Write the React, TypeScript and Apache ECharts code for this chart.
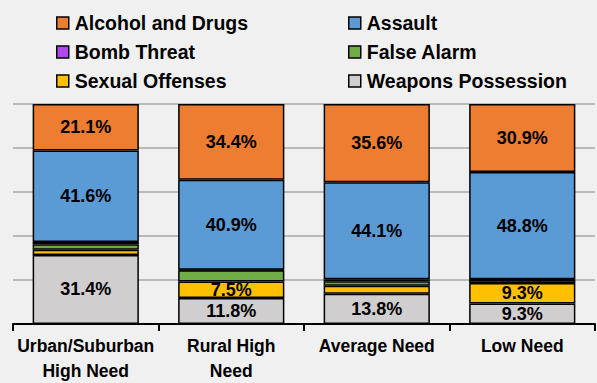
import React, { useEffect, useRef } from "react";
import * as echarts from "echarts";

// Share of incidents by school need category (percent of each column)
const categories = ["Urban/Suburban\nHigh Need", "Rural High\nNeed", "Average Need", "Low Need"];
const alcoholAndDrugs = [21.1, 34.4, 35.6, 30.9];
const assault = [41.6, 40.9, 44.1, 48.8];
const bombThreat = [1.0, 0.3, 0.9, 0.2];
const falseAlarm = [2.5, 5.1, 2.0, 1.5];
const sexualOffenses = [2.4, 7.5, 3.6, 9.3];
const weaponsPossession = [31.4, 11.8, 13.8, 9.3];
const yTicks = [0, 20, 40, 60, 80, 100];

const FONT = "'Liberation Sans', Arial, sans-serif";

export default function App() {
  const ref = useRef<HTMLDivElement>(null);

  useEffect(() => {
    if (!ref.current) return;
    const chart = echarts.init(ref.current, null, { renderer: "svg" });

    // stacked from the bottom of each column upwards
    const layers = [
      { name: "Weapons Possession", data: weaponsPossession, color: "#D0CECE" },
      { name: "Sexual Offenses", data: sexualOffenses, color: "#FFC000" },
      { name: "False Alarm", data: falseAlarm, color: "#70AD47" },
      { name: "Bomb Threat", data: bombThreat, color: "#B347EE" },
      { name: "Assault", data: assault, color: "#5B9BD5" },
      { name: "Alcohol and Drugs", data: alcoholAndDrugs, color: "#ED7D31" },
    ];

    const legendCommon = {
      orient: "vertical" as const,
      top: 8,
      itemWidth: 12,
      itemHeight: 12,
      itemGap: 9,
      icon: "rect",
      itemStyle: { borderColor: "#000", borderWidth: 1.5 },
      textStyle: {
        fontFamily: FONT,
        fontWeight: "bold" as const,
        fontSize: 19.5,
        color: "#000",
        lineHeight: 20,
        padding: [0, 0, 0, 1],
      },
      selectedMode: false,
    };

    chart.setOption({
      animation: false,
      backgroundColor: "#F0F0F0",
      legend: [
        { ...legendCommon, left: 51, data: ["Alcohol and Drugs", "Bomb Threat", "Sexual Offenses"] },
        { ...legendCommon, left: 343, data: ["Assault", "False Alarm", "Weapons Possession"] },
      ],
      grid: { left: 13, right: 2, top: 104, height: 224, containLabel: false },
      xAxis: {
        type: "category",
        data: categories,
        axisLine: { lineStyle: { color: "#000", width: 2 } },
        axisTick: { show: true, length: 7, lineStyle: { color: "#000", width: 2 } },
        axisLabel: {
          fontFamily: FONT,
          fontWeight: "bold",
          fontSize: 17.5,
          color: "#000",
          lineHeight: 25,
          margin: 9,
          interval: 0,
        },
      },
      yAxis: {
        type: "value",
        min: yTicks[0],
        max: yTicks[yTicks.length - 1],
        interval: yTicks[1] - yTicks[0],
        axisLabel: { show: false },
        axisLine: { show: false },
        axisTick: { show: false },
        splitLine: { lineStyle: { color: "#A6A6A6", width: 1.5 } },
      },
      series: layers.map((l) => ({
        name: l.name,
        type: "bar",
        stack: "total",
        barCategoryGap: "27%",
        data: l.data,
        itemStyle: { color: l.color, borderColor: "#000", borderWidth: 1.5 },
        label: {
          show: true,
          position: "inside",
          fontFamily: FONT,
          fontWeight: "bold",
          fontSize: 18,
          color: "#000",
          formatter: (p: any) => (p.value >= 7 ? `${p.value.toFixed(1)}%` : ""),
        },
        emphasis: { disabled: true },
      })),
    });

    return () => chart.dispose();
  }, []);

  return (
    <div
      ref={ref}
      style={{ position: "fixed", left: 0, top: 0, width: 597, height: 383, background: "#F0F0F0" }}
    />
  );
}
